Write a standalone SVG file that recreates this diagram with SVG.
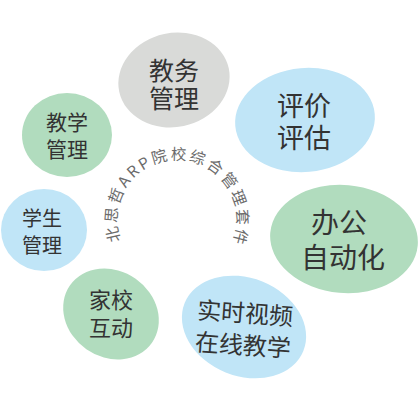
<svg xmlns="http://www.w3.org/2000/svg" width="420" height="420" viewBox="0 0 420 420">
  <style>
    .green { fill: #b1dcbe; }
    .blue { fill: #c0e5f7; }
    .gray { fill: #d9dad8; }
    .lbl { font-family: "Noto Sans CJK SC", "Noto Sans", sans-serif; fill: #333333; text-anchor: middle; }
    .arc { font-family: "Noto Sans CJK SC", "Noto Sans", sans-serif; fill: #6b6b6b; font-size: 15.5px; }
  </style>
  <defs>
    <path id="arcPath" d="M 120.62 240.52 A 60 60 0 1 1 230.93 246.30" fill="none"/>
  </defs>
  <rect width="420" height="420" fill="#ffffff"/>

  <g id="node-jiaowu">
    <ellipse class="gray" cx="174" cy="80" rx="56" ry="47" transform="rotate(-12 174 80)"/>
    <text class="lbl" x="174" y="80" font-size="25">教务</text>
    <text class="lbl" x="174" y="108" font-size="25">管理</text>
  </g>
  <g id="node-pingjia">
    <ellipse class="blue" cx="305" cy="120" rx="70" ry="52" transform="rotate(-5 305 120)"/>
    <text class="lbl" x="304" y="116" font-size="27">评价</text>
    <text class="lbl" x="304" y="148" font-size="27">评估</text>
  </g>
  <g id="node-bangong">
    <ellipse class="green" cx="344" cy="239" rx="74" ry="54" transform="rotate(5 344 239)"/>
    <text class="lbl" x="339" y="233" font-size="28">办公</text>
    <text class="lbl" x="343" y="268" font-size="28">自动化</text>
  </g>
  <g id="node-shishi">
    <ellipse class="blue" cx="244" cy="327" rx="64" ry="49" transform="rotate(22 244 327)"/>
    <g transform="rotate(4 244 330)">
      <text class="lbl" x="244" y="322" font-size="24">实时视频</text>
      <text class="lbl" x="244" y="354" font-size="24">在线教学</text>
    </g>
  </g>
  <g id="node-jiaxiao">
    <ellipse class="green" cx="111" cy="314" rx="50" ry="43" transform="rotate(35 111 314)"/>
    <text class="lbl" x="111" y="308" font-size="22">家校</text>
    <text class="lbl" x="111" y="336" font-size="22">互动</text>
  </g>
  <g id="node-xuesheng">
    <ellipse class="blue" cx="44" cy="230" rx="43" ry="41"/>
    <text class="lbl" x="42" y="226" font-size="20">学生</text>
    <text class="lbl" x="42" y="253" font-size="20">管理</text>
  </g>
  <g id="node-jiaoxue">
    <ellipse class="green" cx="67" cy="135" rx="45" ry="42"/>
    <text class="lbl" x="67" y="130" font-size="21">教学</text>
    <text class="lbl" x="67" y="157" font-size="21">管理</text>
  </g>

  <g id="center-title">
    <text class="arc"><textPath href="#arcPath" textLength="232" lengthAdjust="spacing">北思哲ARP院校综合管理套件</textPath></text>
  </g>
</svg>
